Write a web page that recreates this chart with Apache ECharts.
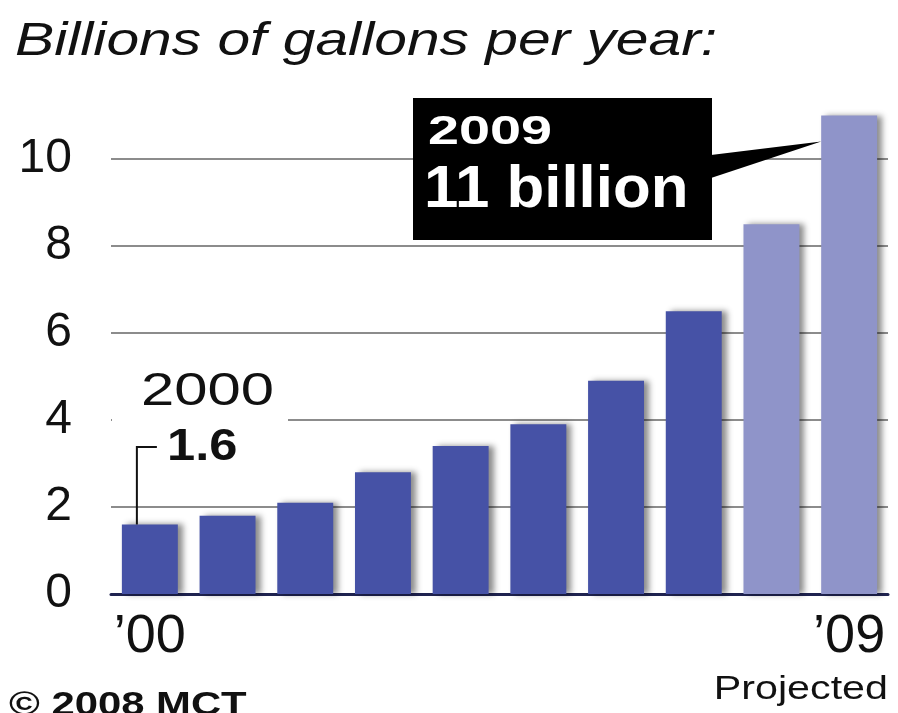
<!DOCTYPE html>
<html>
<head>
<meta charset="utf-8">
<script src="https://cdn.jsdelivr.net/npm/echarts@6/dist/echarts.min.js"></script>
<style>
  html, body { margin: 0; padding: 0; background: #ffffff; }
  #chart { width: 898px; height: 713px; }
</style>
</head>
<body>
<div id="chart"></div>
<script>
// Ethanol production, billions of gallons per year
const years = ['2000', '2001', '2002', '2003', '2004', '2005', '2006', '2007', '2008', '2009'];
const yearTicks = ['\u201900', '', '', '', '', '', '', '', '', '\u201909'];
const actualValues = [1.6, 1.8, 2.1, 2.8, 3.4, 3.9, 4.9, 6.5, null, null];
const projectedValues = [null, null, null, null, null, null, null, null, 8.5, 11];
const yTicks = [0, 2, 4, 6, 8, 10];

const FONT = '"Liberation Sans", Arial, Helvetica, sans-serif';
const chart = echarts.init(document.getElementById('chart'), null, { renderer: 'canvas' });

const barShadow = {
  shadowBlur: 6,
  shadowColor: 'rgba(0,0,0,0.45)',
  shadowOffsetX: 5,
  shadowOffsetY: 0
};

chart.setOption({
  animation: false,
  backgroundColor: '#ffffff',
  grid: { left: 111, right: 10, top: 72, bottom: 119 },
  xAxis: {
    type: 'category',
    data: years,
    axisLine: { lineStyle: { color: '#1f2350', width: 3 } },
    axisTick: { show: false },
    axisLabel: {
      interval: 0,
      margin: 16,
      fontSize: 54,
      fontFamily: FONT,
      color: '#111111',
      formatter: (v, i) => yearTicks[i]
    }
  },
  yAxis: {
    type: 'value',
    min: 0,
    max: 12,
    interval: 2,
    axisLine: { show: false },
    axisTick: { show: false },
    axisLabel: {
      margin: 39,
      fontSize: 48,
      fontFamily: FONT,
      color: '#111111',
      formatter: v => (yTicks.indexOf(v) >= 0 ? String(v) : '')
    },
    splitLine: {
      show: true,
      showMinLine: false,
      showMaxLine: false,
      lineStyle: { color: '#8c8c8c', width: 2 }
    }
  },
  series: [
    {
      name: 'Actual',
      type: 'bar',
      data: actualValues,
      barCategoryGap: '28%',
      barGap: '-100%',
      itemStyle: Object.assign({ color: '#4652a6' }, barShadow)
    },
    {
      name: 'Projected',
      type: 'bar',
      data: projectedValues,
      barCategoryGap: '28%',
      barGap: '-100%',
      itemStyle: Object.assign({ color: '#8f94c9' }, barShadow)
    }
  ]
});

// Callouts and captions, anchored to the bars through the axes
const first = chart.convertToPixel({ xAxisIndex: 0, yAxisIndex: 0 }, [years[0], actualValues[0]]);
const lastTop = chart.convertToPixel({ xAxisIndex: 0, yAxisIndex: 0 }, [years[9], 10.4]);
const bandWidth = chart.getModel().getComponent('xAxis', 0).axis.getBandWidth();
const halfBar = bandWidth * 0.72 / 2;

const leaderX = first[0] - halfBar + 15;
const pointerTipX = lastTop[0] - halfBar;

function txt(x, y, text, font, opts) {
  opts = opts || {};
  return {
    type: 'text',
    x: x,
    y: y,
    scaleX: opts.scaleX || 1,
    z: 20,
    style: {
      text: text,
      font: font,
      fill: opts.fill || '#111111',
      align: opts.align || 'left',
      textAlign: opts.align || 'left',
      verticalAlign: 'middle',
      textVerticalAlign: 'middle'
    }
  };
}

chart.setOption({
  graphic: [
    // Heading
    txt(15, 42, 'Billions of gallons per year:', 'italic 47px ' + FONT, { scaleX: 1.25 }),

    // 2000 callout: clear the gridline behind it
    { type: 'rect', z: 1, shape: { x: 112, y: 364, width: 176, height: 108 }, style: { fill: '#ffffff' } },
    txt(141, 392, '2000', '46px ' + FONT, { scaleX: 1.3 }),
    txt(167, 448, '1.6', 'bold 44px ' + FONT, { scaleX: 1.15 }),
    {
      type: 'polyline', z: 20,
      shape: { points: [[leaderX + 20, 447], [leaderX, 447], [leaderX, first[1]]] },
      style: { stroke: '#111111', lineWidth: 2, fill: null }
    },

    // 2009 callout box with pointer
    { type: 'rect', z: 15, shape: { x: 413, y: 98, width: 299, height: 142 }, style: { fill: '#000000' } },
    {
      type: 'polygon', z: 15,
      shape: { points: [[711, 155], [pointerTipX, lastTop[1]], [711, 178]] },
      style: { fill: '#000000' }
    },
    txt(428, 133, '2009', 'bold 41px ' + FONT, { fill: '#ffffff', scaleX: 1.36 }),
    txt(424, 190, '11 billion', 'bold 60px ' + FONT, { fill: '#ffffff', scaleX: 1.03 }),

    // Captions
    txt(888, 690, 'Projected', '33px ' + FONT, { align: 'right', scaleX: 1.25 }),
    txt(9, 706, '\u00a9 2008 MCT', 'bold 34px ' + FONT, { scaleX: 1.23 })
  ]
});
</script>
</body>
</html>
